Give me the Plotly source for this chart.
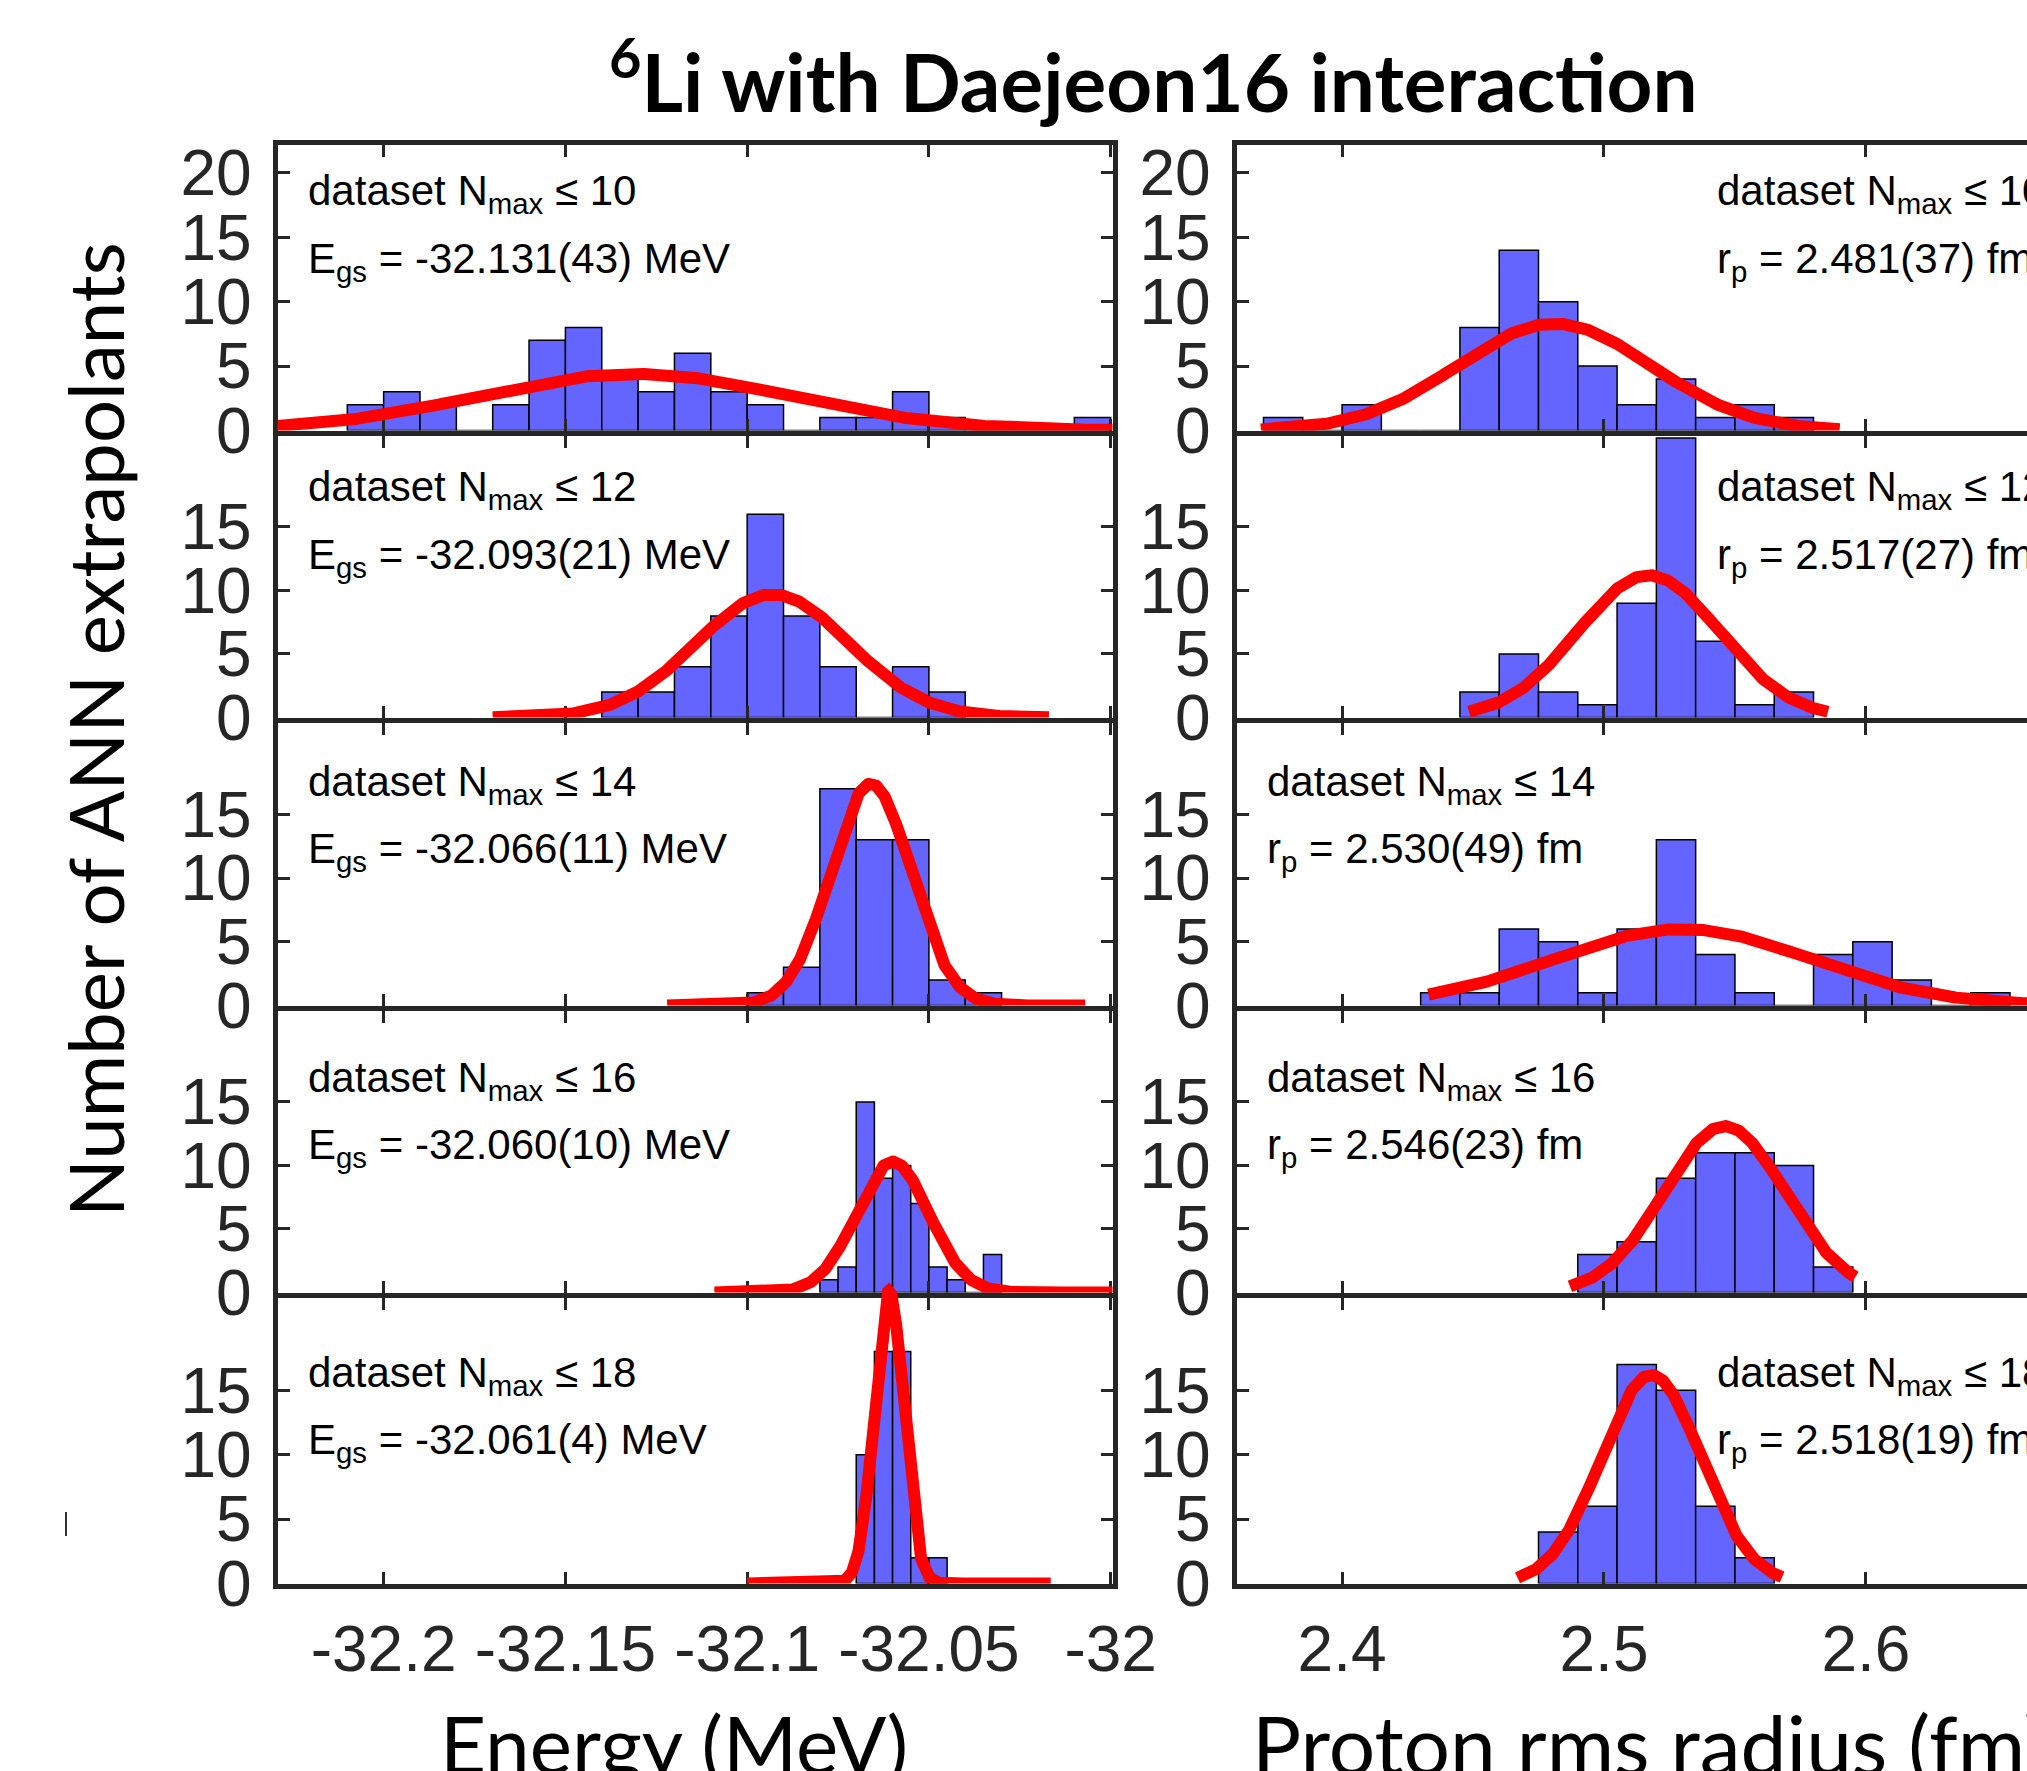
import numpy as np
import plotly.graph_objects as go

# ---------------- data ----------------
nmax_labels = ["10", "12", "14", "16", "18"]

# Energy histograms (MeV)
E_start = [-32.21, -32.14, -32.10, -32.08, -32.07]
E_binw = [0.01, 0.01, 0.01, 0.005, 0.005]
E_counts_10 = [2, 3, 2, 0, 2, 7, 8, 4, 3, 6, 3, 2, 0, 1, 1, 3, 1, 0, 0, 0, 1]
E_counts_12 = [2, 2, 4, 8, 16, 8, 4, 0, 4, 2]
E_counts_14 = [1, 3, 17, 13, 13, 2, 1]
E_counts_16 = [1, 2, 15, 9, 10, 7, 2, 1, 0, 3]
E_counts_18 = [10, 18, 18, 2, 2]
E_counts = [E_counts_10, E_counts_12, E_counts_14, E_counts_16, E_counts_18]
E_mean = [-32.131, -32.093, -32.066, -32.060, -32.061]
E_sigma = [0.043, 0.021, 0.011, 0.010, 0.004]
E_peak = [4.4, 9.7, 17.4, 10.3, 22.7]
E_text = ["-32.131(43)", "-32.093(21)", "-32.066(11)", "-32.060(10)", "-32.061(4)"]
E_curve_lo = [-32.30, -32.170, -32.122, -32.109, -32.100]
E_curve_hi = [-31.95, -32.017, -32.007, -31.990, -32.0165]

# Proton rms radius histograms (fm)
R_start = [2.37, 2.445, 2.43, 2.49, 2.475]
R_binw = [0.015, 0.015, 0.015, 0.015, 0.015]
R_counts_10 = [1, 0, 2, 0, 0, 8, 14, 10, 5, 2, 4, 1, 2, 1]
R_counts_12 = [2, 5, 2, 1, 9, 22, 6, 1, 2]
R_counts_14 = [1, 1, 6, 5, 1, 6, 13, 4, 1, 0, 4, 5, 2, 0, 1]
R_counts_16 = [3, 4, 9, 11, 11, 10, 2]
R_counts_18 = [4, 6, 17, 15, 6, 2]
R_counts = [R_counts_10, R_counts_12, R_counts_14, R_counts_16, R_counts_18]
R_mean = [2.481, 2.517, 2.530, 2.546, 2.518]
R_sigma = [0.037, 0.027, 0.049, 0.023, 0.019]
R_peak = [8.3, 11.2, 6.0, 13.1, 16.2]
R_text = ["2.481(37)", "2.517(27)", "2.530(49)", "2.546(23)", "2.518(19)"]
R_curve_lo = [2.369, 2.4485, 2.433, 2.487, 2.467]
R_curve_hi = [2.590, 2.5855, 2.700, 2.596, 2.568]

E_ticks = [-32.2, -32.15, -32.1, -32.05, -32.0]
E_ticktext = ["-32.2", "-32.15", "-32.1", "-32.05", "-32"]
R_ticks = [2.4, 2.5, 2.6]
R_ticktext = ["2.4", "2.5", "2.6"]

# ---------------- layout geometry (pixels) ----------------
W, H = 2027, 1771
LW = 5
row_bounds = [142, 433, 720, 1008, 1295, 1586]
col_bounds = [(275, 1115), (1234, 2027)]
x_ranges = [[-32.2292, -31.9995], [2.3597, 2.6615]]
Y_MAX = 22.2
EXT = 50  # extra room above panels for the fit curves

AX = "#262626"
BAR = "rgb(100,100,255)"
TICKFONT = dict(family="Liberation Sans, Arial", size=64, color=AX)
TXTFONT = dict(family="Liberation Sans, Arial", size=42, color="black")


def fx(p):
    return p / W


def fy(p):
    return 1 - p / H


fig = go.Figure()
layout = {}
annotations = []

for r in range(5):
    top = row_bounds[r] + LW / 2
    bot = row_bounds[r + 1] - LW / 2
    for c in range(2):
        k = 2 * r + c + 1
        kc = k + 10
        x0 = col_bounds[c][0] + LW / 2
        x1 = col_bounds[c][1] - LW / 2 if c == 0 else col_bounds[c][1]
        xd = [fx(x0), min(fx(x1), 1.0)]
        yd = [fy(bot), fy(top)]
        xs = "" if k == 1 else str(k)
        xname = "xaxis" + xs
        yname = "yaxis" + xs
        last = r == 4
        layout[xname] = dict(
            domain=xd, range=x_ranges[c], anchor="y" + xs,
            showline=True, linewidth=LW, linecolor=AX, mirror="ticks",
            ticks="inside", ticklen=12, tickwidth=3, tickcolor=AX,
            tickvals=E_ticks if c == 0 else R_ticks,
            ticktext=E_ticktext if c == 0 else R_ticktext,
            showticklabels=last, tickfont=TICKFONT, ticklabelstandoff=6,
            showgrid=False, zeroline=False, layer="above traces", automargin=False,
        )
        layout[yname] = dict(
            domain=yd, range=[0, Y_MAX], anchor="x" + xs,
            showline=True, linewidth=LW, linecolor=AX,
            mirror="ticks" if c == 0 else False,
            ticks="inside", ticklen=12, tickwidth=3, tickcolor=AX,
            tickvals=[0, 5, 10, 15, 20] if r == 0 else [0, 5, 10, 15],
            tickfont=TICKFONT, ticklabelstandoff=8,
            showgrid=False, zeroline=False, layer="above traces", automargin=False,
        )
        # curve overlay axes (taller domain so the fit can rise above the frame)
        h = bot - top
        layout["xaxis" + str(kc)] = dict(domain=xd, range=x_ranges[c], anchor="y" + str(kc), visible=False)
        layout["yaxis" + str(kc)] = dict(domain=[fy(bot), fy(top - EXT)], range=[0, Y_MAX * (h + EXT) / h],
                                         anchor="x" + str(kc), visible=False)

        if c == 0:
            start, bw, counts = E_start[r], E_binw[r], E_counts[r]
            mu, sg, pk = E_mean[r], E_sigma[r], E_peak[r]
            lo, hi = E_curve_lo[r], E_curve_hi[r]
        else:
            start, bw, counts = R_start[r], R_binw[r], R_counts[r]
            mu, sg, pk = R_mean[r], R_sigma[r], R_peak[r]
            lo, hi = R_curve_lo[r], R_curve_hi[r]
        centers = [start + (i + 0.5) * bw for i in range(len(counts))]
        fig.add_trace(go.Bar(
            x=centers, y=counts, width=bw, xaxis="x" + xs, yaxis="y" + xs,
            marker=dict(color=BAR, line=dict(color="black", width=1.5)),
            showlegend=False, hoverinfo="skip",
        ))
        # fitted normal curve (mean and width from the panel label)
        xx = np.linspace(lo, hi, 600)
        yy = pk * np.exp(-0.5 * ((xx - mu) / sg) ** 2)
        fig.add_trace(go.Scatter(
            x=xx.tolist(), y=yy.tolist(), mode="lines", line=dict(color="red", width=12),
            xaxis="x" + str(kc), yaxis="y" + str(kc), showlegend=False, hoverinfo="skip",
        ))

# ---------------- panel texts ----------------
line1_off = [49, 54, 61, 69, 77]
line_gap = 67
text_x = [[306, 306, 306, 306, 306], [1715, 1715, 1265, 1265, 1715]]
for r in range(5):
    for c in range(2):
        y1 = row_bounds[r] + line1_off[r]
        t1 = "dataset N<sub>max</sub> ≤ " + nmax_labels[r]
        if c == 0:
            t2 = "E<sub>gs</sub> = " + E_text[r] + " MeV"
        else:
            t2 = "r<sub>p</sub> = " + R_text[r] + " fm"
        for t, yy in ((t1, y1), (t2, y1 + line_gap)):
            annotations.append(dict(
                text=t, xref="paper", yref="paper", x=fx(text_x[c][r]), y=fy(yy + 3),
                xanchor="left", yanchor="middle", showarrow=False, font=TXTFONT,
            ))

# ---------------- titles ----------------
annotations.append(dict(
    text="<b><sup>6</sup>Li with Daejeon16 interaction</b>", xref="paper", yref="paper",
    x=fx(1153), y=fy(76), xanchor="center", yanchor="middle", showarrow=False,
    font=dict(family="Lato", size=80, color="black"),
))
annotations.append(dict(
    text="Number of ANN extrapolants", xref="paper", yref="paper",
    x=fx(94), y=fy(730), xanchor="center", yanchor="middle", textangle=-90, showarrow=False,
    font=dict(family="Lato", size=76, color="black"),
))
annotations.append(dict(
    text="Energy (MeV)", xref="paper", yref="paper",
    x=fx(674), y=fy(1743), xanchor="center", yanchor="middle", showarrow=False,
    font=dict(family="Lato", size=80, color="black"),
))
annotations.append(dict(
    text="Proton rms radius (fm)", xref="paper", yref="paper",
    x=fx(1250), y=fy(1743), xanchor="left", yanchor="middle", showarrow=False,
    font=dict(family="Lato", size=82, color="black"),
))

# small stray mark at the left edge of the original figure
shapes = [dict(type="line", xref="paper", yref="paper", x0=fx(66), x1=fx(66),
               y0=fy(1512), y1=fy(1536), line=dict(color="#333333", width=2))]

fig.update_layout(
    width=W, height=H, margin=dict(l=0, r=0, t=0, b=0, pad=0, autoexpand=False),
    paper_bgcolor="white", plot_bgcolor="rgba(0,0,0,0)",
    barmode="overlay", showlegend=False,
    annotations=annotations, shapes=shapes, **layout,
)

fix_page = (
    "document.documentElement.style.margin='0';"
    "document.documentElement.style.overflow='hidden';"
    "document.body.style.margin='0';"
    "document.body.style.overflow='hidden';"
    "var gdv=document.getElementById('{plot_id}');"
    "gdv.style.position='absolute';gdv.style.left='0px';gdv.style.top='0px';"
)

fig.write_html("out.html", config={"responsive": False, "displayModeBar": False}, post_script=fix_page)
